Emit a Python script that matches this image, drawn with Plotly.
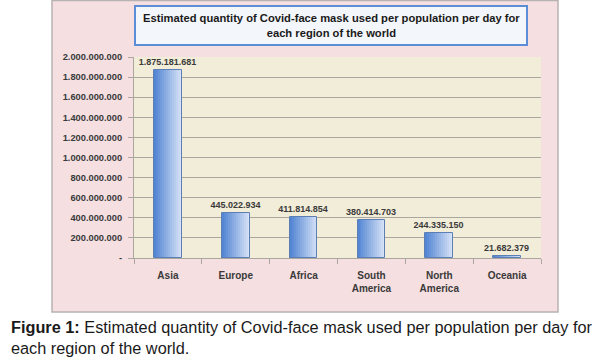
import plotly.graph_objects as go

regions = ["Asia", "Europe", "Africa", "South<br>America", "North<br>America", "Oceania"]
masks = [1875181681, 445022934, 411814854, 380414703, 244335150, 21682379]
value_labels = ["1.875.181.681", "445.022.934", "411.814.854", "380.414.703", "244.335.150", "21.682.379"]
y_tickvals = [0, 200000000, 400000000, 600000000, 800000000, 1000000000,
              1200000000, 1400000000, 1600000000, 1800000000, 2000000000]
y_ticktext = ["-", "200.000.000", "400.000.000", "600.000.000", "800.000.000", "1.000.000.000",
              "1.200.000.000", "1.400.000.000", "1.600.000.000", "1.800.000.000", "2.000.000.000"]
chart_title = "Estimated quantity of Covid-face mask used per population per day for<br>each region of the world"

W, H = 609, 357
L, R, T, B = 134, 541, 57, 258  # plot area in pixels


def px(x):
    return (x - L) / (R - L)


def py(y):
    return (B - y) / (B - T)


fig = go.Figure()

bw = 0.41
N = 14
light = (214, 226, 246)
dark = (84, 134, 212)
for k in range(N):
    t = k / (N - 1)
    c = tuple(round(light[i] + (dark[i] - light[i]) * t) for i in range(3))
    fig.add_trace(go.Bar(
        x=regions, y=masks,
        width=bw * (1 - k / N), offset=-bw / 2,
        marker=dict(color="rgb(%d,%d,%d)" % c, line=dict(width=0)),
        hoverinfo="skip", showlegend=False,
    ))
fig.add_trace(go.Bar(
    x=regions, y=masks, width=bw, offset=-bw / 2,
    marker=dict(color="rgba(0,0,0,0)", line=dict(color="#5b7fb5", width=1)),
    text=value_labels, textposition="outside", cliponaxis=False,
    constraintext="none",
    textfont=dict(family="Liberation Sans", size=9, color="#3a3a3a"),
    texttemplate="<b>%{text}</b>",
    showlegend=False,
))

shapes = [
    # pink chart frame
    dict(type="rect", xref="paper", yref="paper", layer="below",
         x0=px(52), x1=px(558), y0=py(312), y1=py(0.5),
         fillcolor="#f5dfe1", line=dict(color="#b9b2b3", width=1.5)),
    # plot area background
    dict(type="rect", xref="paper", yref="paper", layer="below",
         x0=0, x1=1, y0=0, y1=1,
         fillcolor="#f2edd9", line=dict(width=0)),
    # title box
    dict(type="rect", xref="paper", yref="paper", layer="above",
         x0=px(135), x1=px(527), y0=py(45), y1=py(6),
         fillcolor="#f3f6fb", line=dict(color="#5b8ed6", width=2)),
]

annotations = [
    dict(xref="paper", yref="paper", x=(px(135) + px(527)) / 2, y=(py(45) + py(6)) / 2,
         text="<b>" + chart_title + "</b>", showarrow=False, xanchor="center", yanchor="middle",
         font=dict(family="Liberation Sans", size=11.2, color="#1a1a1a")),
    dict(xref="paper", yref="paper", x=px(9), y=py(316), xanchor="left", yanchor="top",
         align="left", showarrow=False,
         text="<b>Figure 1:</b> Estimated quantity of Covid-face mask used per population per day for<br>each region of the world.",
         font=dict(family="Liberation Sans", size=16.3, color="#1a1a1a")),
]

fig.update_layout(
    width=W, height=H,
    margin=dict(l=L, r=W - R, t=T, b=H - B, pad=0),
    paper_bgcolor="white", plot_bgcolor="rgba(0,0,0,0)",
    barmode="overlay", bargap=0,
    shapes=shapes, annotations=annotations,
    font=dict(family="Liberation Sans", size=9, color="#3a3a3a"),
)
fig.update_yaxes(
    range=[0, 2000000000], tickvals=y_tickvals,
    ticktext=["<b>" + t + "</b>" for t in y_ticktext],
    showgrid=True, gridcolor="#a9a7a0", gridwidth=1,
    showline=True, linecolor="#a9a7a0", linewidth=1,
    ticks="outside", ticklen=5, tickcolor="#a9a7a0",
    ticklabelstandoff=4, zeroline=False,
    tickfont=dict(family="Liberation Sans", size=9.3, color="#3a3a3a"),
)
fig.update_xaxes(
    tickvals=regions, ticktext=["<b>" + r + "</b>" for r in regions],
    showline=True, linecolor="#a9a7a0", linewidth=1,
    ticks="outside", ticklen=5, tickcolor="#a9a7a0", tickson="boundaries",
    ticklabelstandoff=8,
    tickfont=dict(family="Liberation Sans", size=10, color="#3a3a3a"),
)

fig.write_html("out.html", config={"displayModeBar": False},
               post_script="document.body.style.margin='0';document.body.style.padding='0';")
